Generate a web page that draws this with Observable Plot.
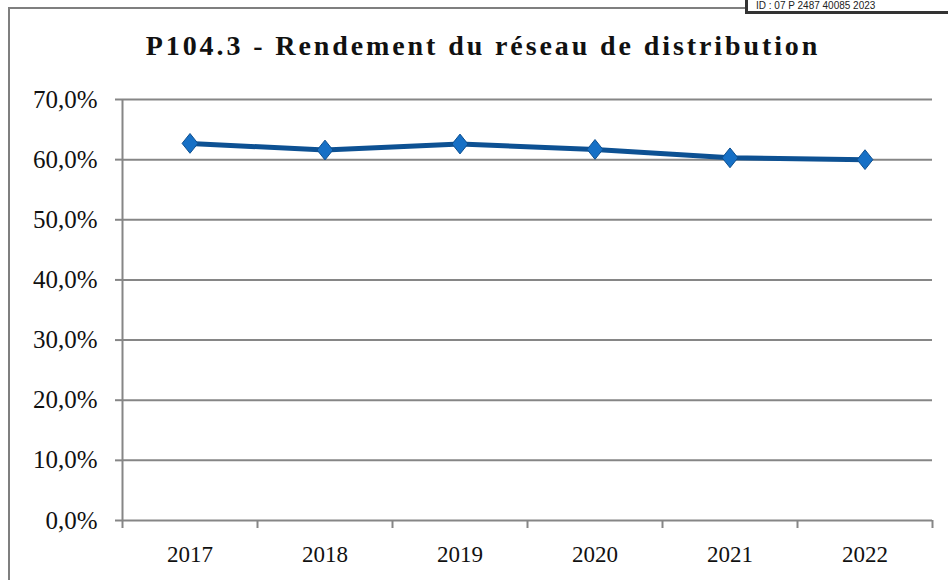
<!DOCTYPE html>
<html>
<head>
<meta charset="utf-8">
<script src="https://cdn.jsdelivr.net/npm/d3@7"></script>
<script src="https://cdn.jsdelivr.net/npm/@observablehq/plot@0.6"></script>
<style>
  html, body { margin: 0; padding: 0; background: #fff; }
  #wrap { position: relative; width: 948px; height: 580px; overflow: hidden; }
  #chart { position: absolute; left: 0; top: 0; }
  .frame-top { position: absolute; left: 8px; top: 7px; width: 740px; height: 0; border-top: 2px solid #7f7f7f; }
  .frame-left { position: absolute; left: 8px; top: 7px; width: 0; height: 580px; border-left: 2px solid #7f7f7f; }
  .idbox { position: absolute; left: 745px; top: -4px; width: 230px; height: 12px; border: 3px solid #333; background: #fff;
           font-family: "Liberation Sans", Arial, sans-serif; font-size: 10px; line-height: 13px; padding-left: 8px; color: #222; white-space: nowrap; }
  .title { position: absolute; left: 0; width: 966px; top: 30px; text-align: center;
           font-family: "Liberation Serif", "DejaVu Serif", serif; font-weight: bold; font-size: 28px; letter-spacing: 2.9px; color: #111; }
</style>
</head>
<body>
<div id="wrap">
  <div id="chart"></div>
  <div class="frame-top"></div>
  <div class="frame-left"></div>
  <div class="idbox">ID : 07 P 2487 40085 2023</div>
  <div class="title">P104.3 - Rendement du réseau de distribution</div>
</div>
<script>
const years = [2017, 2018, 2019, 2020, 2021, 2022];
const rendement = [0.627, 0.616, 0.626, 0.617, 0.603, 0.600];
const yTicks = [0, 0.1, 0.2, 0.3, 0.4, 0.5, 0.6, 0.7];
const boundaryTicks = [2016.5, 2017.5, 2018.5, 2019.5, 2020.5, 2021.5, 2022.5];

const data = years.map((y, i) => ({year: y, value: rendement[i]}));
const fmtPct = d => (d * 100).toFixed(1).replace(".", ",") + "%";

const diamond = {
  draw(ctx, size) {
    const h = Math.sqrt(size) * 0.62, w = h * 0.8;
    ctx.moveTo(0, -h); ctx.lineTo(w, 0); ctx.lineTo(0, h); ctx.lineTo(-w, 0); ctx.closePath();
  }
};

const chart = Plot.plot({
  width: 948,
  height: 580,
  marginLeft: 122,
  marginRight: 16,
  marginTop: 99,
  marginBottom: 60,
  style: {background: "none", fontFamily: "'Liberation Serif', 'DejaVu Serif', serif", fontSize: "23px", color: "#111"},
  x: {type: "linear", domain: [2016.5, 2022.5]},
  y: {domain: [0, 0.7]},
  marks: [
    Plot.gridY(yTicks.slice(1), {stroke: "#868686", strokeOpacity: 1, strokeWidth: 2}),
    Plot.ruleY([0], {stroke: "#868686", strokeWidth: 2}),
    Plot.ruleX([2016.5], {stroke: "#868686", strokeWidth: 2}),
    Plot.axisY(yTicks, {tickFormat: fmtPct, tickSize: 7, tickPadding: 18, stroke: "#868686", strokeWidth: 2, strokeOpacity: 1, fontSize: 25, letterSpacing: 0.8, fill: "#111", label: null}),
    Plot.axisX(boundaryTicks, {tickFormat: () => "", tickSize: 8, stroke: "#868686", strokeWidth: 2, strokeOpacity: 1, label: null}),
    Plot.axisX(years, {tickFormat: d => String(d), tickSize: 0, tickPadding: 25, fontSize: 23, letterSpacing: 0.8, fill: "#111", label: null}),
    Plot.line(data, {x: "year", y: "value", stroke: "#0d5193", strokeWidth: 5}),
    Plot.dot(data, {x: "year", y: "value", symbol: diamond, r: 9, fill: "#1670c6", stroke: "#0d4f8f", strokeWidth: 1})
  ]
});
document.getElementById("chart").appendChild(chart);
</script>
</body>
</html>
